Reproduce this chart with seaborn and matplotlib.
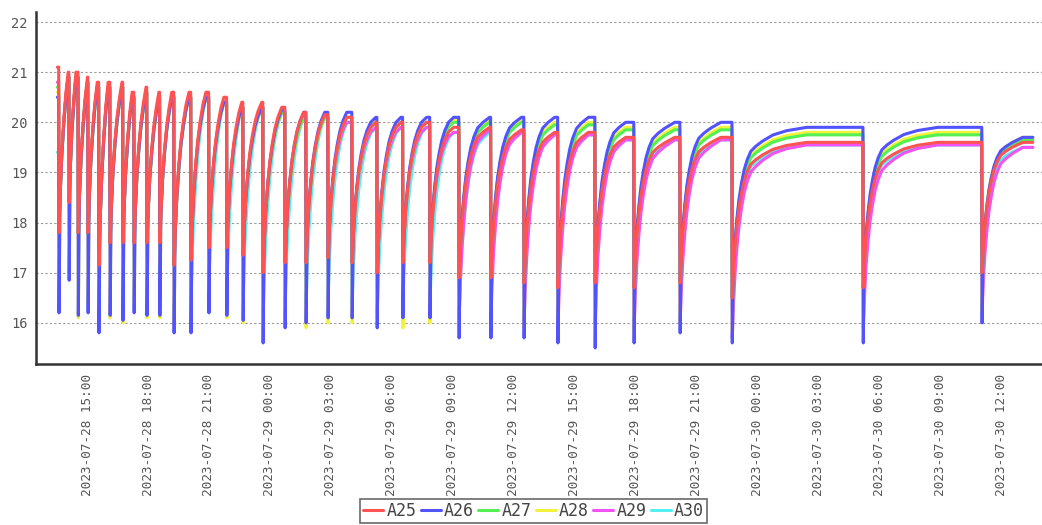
# ==========================================
# A25 - A30 SAWTOOTH TREND CHART
# ==========================================

import numpy as np
import pandas as pd
import matplotlib
matplotlib.use("Agg")
import matplotlib.pyplot as plt
import matplotlib.dates as mdates
from matplotlib.lines import Line2D
import seaborn as sns

# ==========================================
# DATA
# ==========================================

series_names = ["A25", "A26", "A27", "A28", "A29", "A30"]
series_colors = ["#FF5252", "#5252FF", "#52F052", "#F2F23A", "#F252F2", "#52F0F0"]

start_time = "2023-07-28 13:32"
start_values = [21.1, 20.5, 20.7, 20.6, 20.8, 19.4]
end_time = "2023-07-30 13:35"

# moments where every series drops to its minimum
drop_times = [
    "2023-07-28 13:37", "2023-07-28 14:07", "2023-07-28 14:34", "2023-07-28 15:03",
    "2023-07-28 15:35", "2023-07-28 16:08", "2023-07-28 16:46", "2023-07-28 17:19",
    "2023-07-28 17:57", "2023-07-28 18:35", "2023-07-28 19:17", "2023-07-28 20:07",
    "2023-07-28 21:00", "2023-07-28 21:53", "2023-07-28 22:41", "2023-07-28 23:40",
    "2023-07-29 00:45", "2023-07-29 01:47", "2023-07-29 02:52", "2023-07-29 04:03",
    "2023-07-29 05:17", "2023-07-29 06:33", "2023-07-29 07:53", "2023-07-29 09:19",
    "2023-07-29 10:53", "2023-07-29 12:31", "2023-07-29 14:11", "2023-07-29 16:01",
    "2023-07-29 17:56", "2023-07-29 20:12", "2023-07-29 22:46", "2023-07-30 05:13",
    "2023-07-30 11:04",
]

# shape of a recovery after a drop (minutes after drop -> share of the rise)
rise_minutes = [0, 3, 8, 14, 20, 27, 35, 44, 55, 70, 90, 120, 160, 220]
rise_level = [0, 0.15, 0.33, 0.47, 0.58, 0.67, 0.75, 0.81, 0.86, 0.89, 0.92, 0.955, 0.98, 1.0]

a25_low = [17.8, 18.4, 17.8, 17.8, 17.15, 17.6, 17.6, 17.6, 17.6, 17.6, 17.15,
           17.25, 17.5, 17.5, 17.35, 17.0, 17.2, 17.2, 17.3, 17.2, 17.0, 17.2,
           17.2, 16.9, 16.9, 16.8, 16.7, 16.8, 16.7, 16.8, 16.5, 16.7, 17.0]
a25_peak = [21.0, 21.0, 20.9, 20.8, 20.8, 20.8, 20.6, 20.7, 20.6, 20.6, 20.6,
            20.6, 20.5, 20.4, 20.4, 20.3, 20.2, 20.15, 20.1, 20.0, 20.0, 20.0,
            19.9, 19.9, 19.85, 19.8, 19.8, 19.7, 19.7, 19.7, 19.6, 19.6, 19.6]

a26_spike = [16.2, 16.85, 16.15, 16.2, 15.8, 16.15, 16.05, 16.2, 16.15, 16.15, 15.8,
             15.8, 16.2, 16.15, 16.05, 15.6, 15.9, 16.0, 16.1, 16.1, 15.9, 16.1,
             16.1, 15.7, 15.7, 15.7, 15.6, 15.5, 15.6, 15.8, 15.6, 15.6, 16.0]
a26_peak = [20.9, 20.9, 20.8, 20.7, 20.7, 20.7, 20.5, 20.6, 20.5, 20.5, 20.5,
            20.5, 20.4, 20.3, 20.3, 20.25, 20.2, 20.2, 20.2, 20.1, 20.1, 20.1,
            20.1, 20.1, 20.1, 20.1, 20.1, 20.0, 20.0, 20.0, 19.9, 19.9, 19.7]

a27_peak = [20.9, 20.9, 20.8, 20.7, 20.7, 20.7, 20.5, 20.6, 20.5, 20.5, 20.5,
            20.5, 20.4, 20.3, 20.3, 20.2, 20.1, 20.1, 20.1, 20.0, 20.0, 20.0,
            20.0, 20.0, 20.0, 19.95, 19.95, 19.85, 19.85, 19.85, 19.75, 19.75, 19.65]

a28_spike = [16.4, 17.0, 16.1, 16.4, 16.0, 16.1, 16.0, 16.4, 16.1, 16.1, 16.0,
             16.0, 16.4, 16.1, 16.0, 15.8, 16.1, 15.9, 16.0, 16.0, 16.1, 15.9,
             16.0, 15.9, 15.9, 15.9, 15.8, 15.7, 15.8, 16.0, 15.8, 15.8, 16.2]
a28_peak = [20.9, 20.9, 20.8, 20.7, 20.7, 20.7, 20.5, 20.6, 20.5, 20.5, 20.5,
            20.5, 20.4, 20.3, 20.3, 20.2, 20.1, 20.1, 20.1, 20.0, 20.0, 20.0,
            20.05, 20.05, 20.05, 20.0, 20.0, 19.9, 19.9, 19.9, 19.8, 19.8, 19.7]

a29_low = [17.8, 18.4, 17.8, 17.8, 17.15, 17.6, 17.6, 17.6, 17.6, 17.6, 17.15,
           17.25, 17.5, 17.5, 17.35, 17.0, 17.2, 17.2, 17.3, 17.2, 17.0, 17.2,
           17.2, 16.1, 16.1, 16.0, 15.9, 16.0, 15.9, 16.0, 15.7, 15.9, 16.2]
a29_peak = [20.9, 20.9, 20.8, 20.7, 20.7, 20.7, 20.5, 20.6, 20.5, 20.5, 20.5,
            20.5, 20.4, 20.3, 20.3, 20.2, 20.1, 20.1, 20.0, 19.9, 19.9, 19.9,
            19.8, 19.85, 19.8, 19.75, 19.75, 19.65, 19.65, 19.65, 19.55, 19.55, 19.5]

a30_low = [17.8, 18.4, 17.8, 17.8, 17.15, 17.6, 17.6, 17.6, 17.6, 17.6, 17.15,
           16.45, 16.7, 16.7, 16.55, 16.2, 16.4, 16.4, 16.5, 16.4, 16.2, 16.4,
           16.4, 16.1, 16.9, 16.8, 16.7, 16.8, 16.7, 16.8, 16.5, 16.7, 17.0]
a30_peak = [20.9, 20.9, 20.8, 20.7, 20.7, 20.7, 20.5, 20.6, 20.5, 20.5, 20.5,
            20.5, 20.4, 20.3, 20.3, 20.2, 20.1, 20.1, 20.0, 19.9, 19.9, 19.9,
            19.8, 19.8, 19.8, 19.75, 19.75, 19.65, 19.65, 19.65, 19.55, 19.55, 19.5]

# (value at the drop, level the rise starts from, value before next drop)
series_cycles = {
    "A25": (a25_low, a25_low, a25_peak),
    "A26": (a26_spike, a25_low, a26_peak),
    "A27": (a25_low, a25_low, a27_peak),
    "A28": (a28_spike, a25_low, a28_peak),
    "A29": (a29_low, a29_low, a29_peak),
    "A30": (a30_low, a30_low, a30_peak),
}

# ==========================================
# BUILD LONG TABLE
# ==========================================

drops = pd.to_datetime(drop_times)
t_start = pd.Timestamp(start_time)
t_end = pd.Timestamp(end_time)
bounds = list(drops) + [t_end]

rows = []
for name, v0 in zip(series_names, start_values):
    spike, low, peak = series_cycles[name]
    rows.append((name, t_start, v0))
    rows.append((name, drops[0] - pd.Timedelta(minutes=1), v0))
    for i in range(len(drops)):
        t0 = bounds[i]
        span = (bounds[i + 1] - t0).total_seconds() / 60
        n = sum(1 for m in rise_minutes if m < span - 1)
        top = rise_level[n - 1] if n > 1 else 1.0
        for m, f in zip(rise_minutes[:n], rise_level[:n]):
            if m == 0:
                v = spike[i]
            else:
                v = low[i] + (peak[i] - low[i]) * f / top
            rows.append((name, t0 + pd.Timedelta(minutes=m), v))
        # hold the peak until just before the next drop
        rows.append((name, bounds[i + 1] - pd.Timedelta(minutes=1), peak[i]))

df = pd.DataFrame(rows, columns=["series", "time", "value"])

# ==========================================
# PLOT
# ==========================================

sns.set_style("white")
plt.rcParams["font.family"] = ["DejaVu Sans Mono", "DejaVu Sans"]

fig = plt.figure(figsize=(10.42, 5.25), dpi=100)
ax = fig.add_axes([36 / 1042, 161 / 525, 1 - 36 / 1042, 352 / 525])

palette = dict(zip(series_names, series_colors))

sns.lineplot(
    data=df,
    x="time",
    y="value",
    hue="series",
    hue_order=series_names[::-1],
    palette=palette,
    estimator=None,
    sort=False,
    linewidth=2.2,
    legend=False,
    ax=ax
)

ax.set_xlim(pd.Timestamp("2023-07-28 12:29"), pd.Timestamp("2023-07-30 14:01"))
ax.set_ylim(15.18, 22.2)
ax.set_yticks(range(16, 23))
ax.set_xlabel("")
ax.set_ylabel("")

tick_times = pd.date_range("2023-07-28 15:00", "2023-07-30 12:00", freq="3h")
ax.set_xticks(tick_times)
ax.xaxis.set_major_formatter(mdates.DateFormatter("%Y-%m-%d %H:%M"))
for lab in ax.get_xticklabels():
    lab.set_rotation(90)
    lab.set_ha("center")
    lab.set_va("top")

ax.tick_params(axis="x", direction="out", length=4, width=1, color="#666",
               labelsize=9.2, labelcolor="#555", pad=3)
ax.tick_params(axis="y", length=0, labelsize=9.8, labelcolor="#555", pad=6)

ax.grid(axis="y", color="#999999", linestyle=(0, (2, 2)), linewidth=0.8)
ax.grid(axis="x", visible=False)

for side in ["top", "right"]:
    ax.spines[side].set_visible(False)
for side in ["left", "bottom"]:
    ax.spines[side].set_color("#333333")
    ax.spines[side].set_linewidth(1.8)

handles = [Line2D([0], [0], color=c, linewidth=2.2) for c in series_colors]
leg = fig.legend(
    handles,
    series_names,
    loc="upper center",
    bbox_to_anchor=(0.512, 0.05),
    ncol=6,
    frameon=True,
    fancybox=False,
    fontsize=12,
    handlelength=1.2,
    handletextpad=0.2,
    columnspacing=0.25,
    borderpad=0.2,
    borderaxespad=0
)
leg.get_frame().set_edgecolor("#444444")
leg.get_frame().set_linewidth(1.2)
for txt in leg.get_texts():
    txt.set_color("#444444")

fig.savefig("out.png", dpi=100)
